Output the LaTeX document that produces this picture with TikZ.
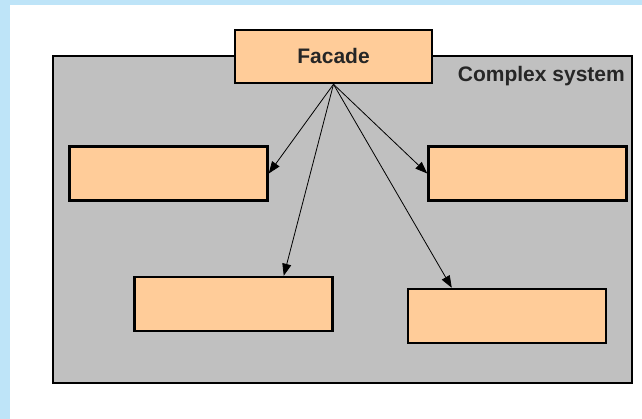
\documentclass[tikz,border=0pt]{standalone}
\usepackage{fontspec}
\setmainfont{Liberation Sans}
\usetikzlibrary{arrows.meta}
\definecolor{framebg}{RGB}{190,228,248}
\definecolor{sysgray}{RGB}{192,192,192}
\definecolor{peach}{RGB}{255,204,153}
\begin{document}
\begin{tikzpicture}[x=1pt,y=-1pt,
  part/.style={draw=black,fill=peach,line width=2.5pt,rectangle,inner sep=0pt,
    minimum width=198pt,minimum height=54pt},
  subsys/.style={draw=black,fill=sysgray,line width=2.5pt,rectangle,inner sep=0pt},
  link/.style={draw=black,line width=0.8pt,-{Triangle[length=12pt,width=9pt]}},
  lbl/.style={font=\fontsize{21}{25}\selectfont\bfseries,text=black!85,inner sep=0pt}]
  % canvas with the light blue frame along the left and top
  \useasboundingbox (0,0) rectangle (642,419);
  \fill[white] (0,0) rectangle (642,419);
  \fill[framebg] (0,0) rectangle (10,419);
  \fill[framebg] (0,0) rectangle (642,5);
  % the subsystem
  \node[subsys,minimum width=579pt,minimum height=327pt] (system) at (342.5,219.5) {};
  \node[lbl,anchor=base east] (syslabel) at (625,82) {Complex system};
  % parts
  \node[part,minimum width=197pt,minimum height=53pt] (facade) at (333.5,56.5) {};
  \node[lbl] (facadelabel) at (333.5,56) {Facade};
  \node[part] (box1) at (168.5,173.5) {};
  \node[part] (box2) at (527.5,173.5) {};
  \node[part] (box3) at (233.5,304) {};
  \node[part] (box4) at (507,316) {};
  % connectors from the facade
  \draw[link] (facade.south) -- (box1.east);
  \draw[link] (facade.south) -- (box2.west);
  \draw[link] (facade.south) -- ([xshift=-50pt]box3.north east);
  \draw[link] (facade.south) -- ([xshift=45pt]box4.north west);
\end{tikzpicture}
\end{document}
